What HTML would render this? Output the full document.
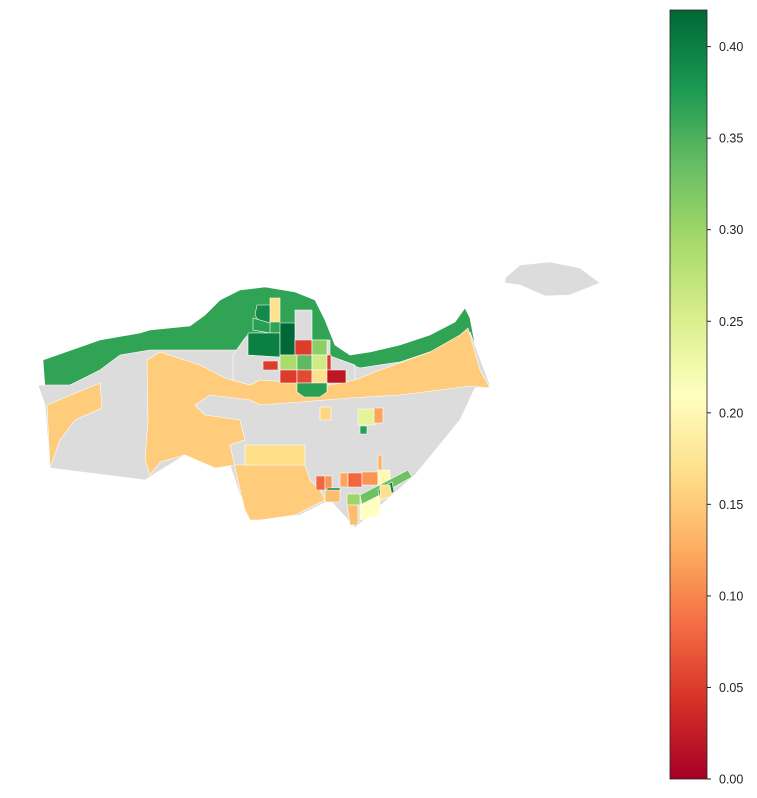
<!DOCTYPE html>
<html><head><meta charset="utf-8"><style>
html,body{margin:0;padding:0;background:#fff;width:757px;height:798px;overflow:hidden;font-family:"Liberation Sans",sans-serif}
</style></head><body>
<svg id="chart" width="757" height="798">
<defs>
<linearGradient id="rdylgn" x1="0" y1="1" x2="0" y2="0">
<stop offset="0" stop-color="#a50026"/><stop offset="0.1" stop-color="#d73027"/><stop offset="0.2" stop-color="#f46d43"/><stop offset="0.3" stop-color="#fdae61"/><stop offset="0.4" stop-color="#fee08b"/><stop offset="0.5" stop-color="#ffffbf"/><stop offset="0.6" stop-color="#d9ef8b"/><stop offset="0.7" stop-color="#a6d96a"/><stop offset="0.8" stop-color="#66bd63"/><stop offset="0.9" stop-color="#1a9850"/><stop offset="1" stop-color="#006837"/>
</linearGradient>
</defs>
<g id="map" stroke="#fff" stroke-width="0.6">
<polygon fill="#dcdcdc" points="505,278 520,265 550,262 580,268 600,283 570,295 545,296 520,285 505,283"/>
<polygon fill="#31a354" points="43,360 100,340 140,333 150,330 190,326 205,315 220,300 240,290 265,287 295,292 315,300 325,320 335,345 350,355 370,352 400,345 430,335 455,322 465,308 470,318 475,345 465,350 440,355 400,362 360,368 330,360 250,352 150,352 120,360 100,372 70,385 45,388"/>
<polygon fill="#dcdcdc" points="38,385 70,385 100,370 120,355 150,350 250,350 330,356 360,368 400,362 450,345 470,332 490,385 475,388 460,420 415,475 355,528 330,500 300,515 260,520 240,495 230,465 185,455 145,480 50,468 45,405"/>
<polygon fill="#dcdcdc" points="233,385 233,355 245,338 250,333 295,333 295,310 312,310 312,340 330,340 330,356 355,365 355,385"/>
<polygon fill="#fecc7b" points="47,405 100,383 102,408 75,420 60,440 50,468"/>
<polygon fill="#fecc7b" points="147,360 160,352 200,365 225,378 250,385 260,380 330,385 355,380 380,370 430,352 460,335 468,328 480,370 490,388 470,386 440,390 400,395 350,398 300,402 260,405 250,400 210,395 195,405 205,415 240,420 245,440 230,445 240,490 245,510 250,520 260,520 295,515 325,500 320,490 310,480 305,465 245,465 235,465 215,468 185,455 160,462 150,475 145,460 148,420"/>
<polygon fill="#fee08b" points="245,445 305,445 305,465 245,465"/>
<g id="cells"></g>
</g>
<g id="colorbar"></g>
</svg>
<script>
const tickValues=[0.00,0.05,0.10,0.15,0.20,0.25,0.30,0.35,0.40];
const tickLabels=["0.00","0.05","0.10","0.15","0.20","0.25","0.30","0.35","0.40"];
const vMin=0, vMax=0.42;
const cellValues=[0.17,0.39,0.37,0.40,0.42,0.05,0.31,0.05,0.29,0.34,0.26,0.05,0.05,0.06,0.17,0.02,0.37,0.16,0.24,0.12,0.37,0.13,0.08,0.11,0.12,0.08,0.11,0.20,0.40,0.14,0.30,0.33,0.21,0.40,0.14,0.17];
const cellShapes=[
"270,298 280,298 280,322 270,322","257,305 270,305 270,323 258,320 255,315","253,318 270,323 270,333 253,330","248,333 280,333 280,357 248,355","280,323 295,323 295,355 280,355",
"295,340 312,340 312,355 295,355","312,340 327,340 327,355 312,355","263,361 278,361 278,370 263,370","280,355 297,355 297,370 280,370","297,355 312,355 312,370 297,370",
"312,355 327,355 327,370 312,370","327,355 331,355 331,370 327,370","280,370 297,370 297,383 280,383","297,370 312,370 312,383 297,383","312,370 327,370 327,383 312,383",
"327,370 346,370 346,383 327,383","297,383 327,383 327,392 320,397 304,397 297,392","320,407 331,407 331,420 320,420","358,409 375,409 375,425 358,425","374,408 383,408 383,423 374,423",
"360,426 367,426 367,434 360,434","378,455 382,455 382,470 378,470","316,476 325,476 325,490 316,490","325,476 332,476 332,490 325,490","340,473 348,473 348,487 340,487",
"348,473 362,473 362,487 348,487","362,472 378,472 378,485 362,485","378,470 390,470 390,485 378,485","327,488 340,488 340,492 327,492","325,490 340,490 340,502 325,502",
"347,494 360,494 360,505 347,505","360,495 408,470 412,477 362,505","360,505 380,495 380,515 360,520","378,490 392,482 394,492 380,500","347,505 358,505 358,525 350,525",
"380,485 390,485 392,496 380,500"];
const NS="http://www.w3.org/2000/svg";
const stops=[[0,"#a50026"],[0.1,"#d73027"],[0.2,"#f46d43"],[0.3,"#fdae61"],[0.4,"#fee08b"],[0.5,"#ffffbf"],[0.6,"#d9ef8b"],[0.7,"#a6d96a"],[0.8,"#66bd63"],[0.9,"#1a9850"],[1,"#006837"]];
function hx(c){return [1,3,5].map(i=>parseInt(c.substr(i,2),16));}
function color(v){let t=Math.max(0,Math.min(1,(v-vMin)/(vMax-vMin)));
for(let i=0;i<stops.length-1;i++){if(t<=stops[i+1][0]){const a=hx(stops[i][1]),b=hx(stops[i+1][1]),f=(t-stops[i][0])/(stops[i+1][0]-stops[i][0]);return "rgb("+a.map((x,k)=>Math.round(x+(b[k]-x)*f)).join(",")+")";}}return stops[10][1];}
const cells=document.getElementById("cells");
cellValues.forEach((v,i)=>{const p=document.createElementNS(NS,"polygon");
p.setAttribute("points",cellShapes[i]);p.setAttribute("fill",color(v));


cells.appendChild(p);});
const cbTop=10,cbBot=779,cbX=670,cbW=37;
function yScale(v){return cbBot-(v-vMin)/(vMax-vMin)*(cbBot-cbTop);}
const cb=document.getElementById("colorbar");
const r=document.createElementNS(NS,"rect");
r.setAttribute("x",cbX);r.setAttribute("y",cbTop);r.setAttribute("width",cbW);r.setAttribute("height",cbBot-cbTop);
r.setAttribute("fill","url(#rdylgn)");r.setAttribute("stroke","#222");r.setAttribute("stroke-width","0.8");


cb.appendChild(r);
tickValues.forEach((v,i)=>{const y=yScale(v);
const l=document.createElementNS(NS,"line");l.setAttribute("x1",cbX+cbW);l.setAttribute("x2",cbX+cbW+4);l.setAttribute("y1",y);l.setAttribute("y2",y);l.setAttribute("stroke","#222");


cb.appendChild(l);
const t=document.createElementNS(NS,"text");t.setAttribute("x",cbX+cbW+12);t.setAttribute("y",y+4.5);t.setAttribute("font-size","12.5");t.setAttribute("fill","#222");
t.setAttribute("font-family","Liberation Sans, sans-serif");t.textContent=tickLabels[i];


cb.appendChild(t);});
</script>
</body></html>
